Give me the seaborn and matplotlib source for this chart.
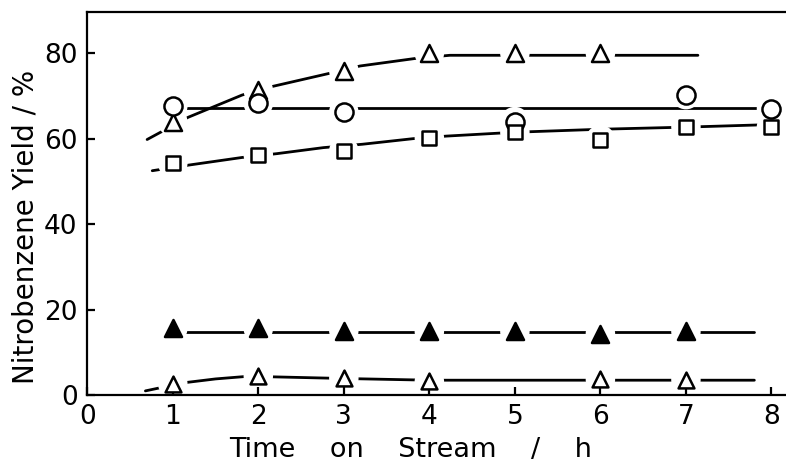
import numpy as np
import pandas as pd
import matplotlib
matplotlib.use("Agg")
import matplotlib.pyplot as plt
import seaborn as sns

# measured points (time on stream / h, nitrobenzene yield / %)
t_open_tri = [1, 2, 3, 4, 5, 6]
y_open_tri = [63.9, 71.3, 75.9, 80.0, 80.0, 80.0]

t_circle = [1, 2, 3, 5, 7, 8]
y_circle = [67.6, 68.3, 66.2, 64.0, 70.3, 67.0]

t_square = [1, 2, 3, 4, 5, 6, 7, 8]
y_square = [54.2, 56.2, 57.1, 60.2, 61.5, 59.7, 62.8, 62.7]

t_filled_tri = [1, 2, 3, 4, 5, 6, 7]
y_filled_tri = [15.6, 15.6, 15.1, 14.9, 14.9, 14.4, 14.9]

t_small_tri = [1, 2, 3, 4, 6, 7]
y_small_tri = [2.7, 4.5, 4.0, 3.2, 3.7, 3.6]

# hand-drawn trend curves
cx_open_tri = [0.70, 1.18, 1.81, 2.14, 2.88, 3.19, 3.85, 4.24, 7.14]
cy_open_tri = [59.8, 65.0, 70.2, 72.1, 75.5, 77.0, 78.8, 79.5, 79.5]

cx_circle = [1.0, 8.0]
cy_circle = [67.1, 67.1]

cx_square = [0.76, 1.18, 1.81, 2.22, 2.76, 3.22, 3.81, 4.2, 5.0, 6.0, 7.0, 8.0]
cy_square = [52.5, 53.8, 55.6, 56.5, 57.9, 58.7, 60.0, 60.6, 61.5, 62.2, 62.7, 63.3]

cx_filled_tri = [1.0, 7.8]
cy_filled_tri = [14.7, 14.7]

cx_small_tri = [0.68, 1.13, 1.5, 1.87, 2.14, 3.0, 4.0, 7.8]
cy_small_tri = [1.0, 2.9, 3.8, 4.4, 4.3, 3.9, 3.5, 3.5]

sns.set_style("ticks", {"axes.edgecolor": "black", "text.color": "black",
                        "xtick.color": "black", "ytick.color": "black",
                        "axes.labelcolor": "black"})
plt.rcParams["font.family"] = ["DejaVu Sans"]

fig = plt.figure(figsize=(7.86, 4.66), dpi=100)
ax = fig.add_axes([0.111, 0.152, 0.889, 0.822])
ax.set_axisbelow(False)

curves = [
    (cx_open_tri, cy_open_tri),
    (cx_circle, cy_circle),
    (cx_square, cy_square),
    (cx_filled_tri, cy_filled_tri),
    (cx_small_tri, cy_small_tri),
]
for cx, cy in curves:
    sns.lineplot(x=cx, y=cy, ax=ax, color="black", linewidth=2.0, sort=False,
                 zorder=1)

points = [
    (t_open_tri, y_open_tri, "^", "white", 150),
    (t_circle, y_circle, "o", "white", 170),
    (t_square, y_square, "s", "white", 100),
    (t_filled_tri, y_filled_tri, "^", "black", 150),
    (t_small_tri, y_small_tri, "^", "white", 130),
]

# white halo around each marker breaks the trend lines like the original
for t, y, m, fc, s in points:
    sns.scatterplot(x=t, y=y, ax=ax, marker="o", s=450, color="white",
                    edgecolor="none", linewidth=0, zorder=2)
for t, y, m, fc, s in points:
    sns.scatterplot(x=t, y=y, ax=ax, marker=m, s=s, color=fc,
                    edgecolor="black", linewidth=1.8, zorder=3)

ax.set_xlim(0, 8.17)
ax.set_ylim(0, 89.6)
ax.set_xticks(range(0, 9))
ax.set_yticks([0, 20, 40, 60, 80])
ax.tick_params(direction="in", length=6, width=1.6, labelsize=19)
ax.tick_params(axis="x", pad=6.5)
ax.tick_params(axis="y", pad=7)

for side in ["left", "bottom", "top"]:
    ax.spines[side].set_linewidth(1.6)
ax.spines["right"].set_visible(False)

ax.set_xlabel("Time    on    Stream    /    h", fontsize=19.5)
ax.xaxis.set_label_coords(0.462, -0.108)
ax.set_ylabel("Nitrobenzene Yield / %", fontsize=20)
ax.yaxis.set_label_coords(-0.068, 0.44)

fig.savefig("out.png", dpi=100)
